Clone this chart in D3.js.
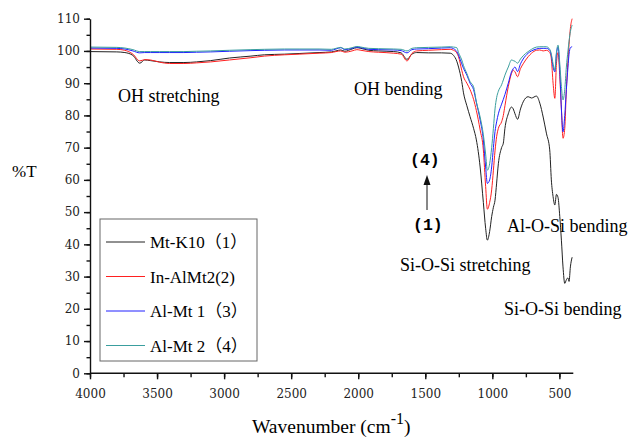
<!DOCTYPE html>
<html>
<head>
<meta charset="utf-8">
<script src="https://cdn.jsdelivr.net/npm/d3@7"></script>
<style>
  body { margin: 0; background: #fff; }
  text { font-family: "Liberation Serif", "Noto Sans CJK SC", serif; }
</style>
</head>
<body>
<div id="chart"></div>
<script>
// wavenumber grid (cm-1), shared by all four spectra
const wavenumbers = [4000, 3800, 3740, 3680, 3629, 3592, 3550, 3480, 3406, 3300, 3205, 3100, 2960, 2800, 2700, 2550, 2441, 2292, 2200, 2166, 2130, 2100, 2046, 2010, 1980, 1921, 1850, 1735, 1680, 1636, 1600, 1564, 1475, 1380, 1314, 1289, 1265, 1252, 1228, 1215, 1190, 1166, 1140, 1119, 1091, 1067, 1050, 1037, 1020, 1005, 992, 980, 968, 955, 931, 918, 906, 881, 857, 844, 831, 812, 790, 770, 733, 708, 671, 646, 621, 597, 572, 560, 547, 534, 522, 510, 497, 485, 473, 460, 448, 436, 428, 418, 405]

// %T for each sample
const mtK10 = [99.8, 99.7, 99.5, 98.6, 96.2, 97.2, 97.0, 96.6, 96.4, 96.4, 96.6, 97.0, 97.8, 98.4, 98.8, 99.0, 99.2, 99.5, 99.7, 100.0, 100.3, 99.9, 100.6, 101.0, 100.8, 100.2, 100.0, 99.8, 99.4, 97.4, 99.0, 99.5, 99.4, 99.4, 99.3, 98.6, 96.8, 95.0, 90.5, 87.0, 83.0, 79.6, 76.0, 72.4, 64.0, 53.0, 45.0, 41.3, 44.0, 48.6, 51.5, 53.7, 59.0, 65.0, 70.0, 71.4, 76.0, 80.5, 82.6, 82.0, 80.5, 78.8, 82.0, 84.2, 85.8, 85.4, 86.0, 83.8, 79.5, 74.5, 69.3, 60.0, 54.8, 52.2, 55.5, 54.5, 48.6, 41.3, 33.0, 27.9, 29.0, 29.6, 28.5, 33.0, 36.0]
const inAlMt2 = [100.6, 100.5, 100.2, 99.0, 96.9, 97.3, 97.2, 96.5, 96.1, 96.1, 96.3, 96.6, 97.2, 97.9, 98.4, 98.8, 99.0, 99.3, 99.5, 99.8, 100.0, 99.6, 100.0, 100.4, 100.2, 99.8, 99.6, 99.3, 99.0, 96.9, 99.2, 100.0, 100.2, 100.4, 100.5, 100.2, 99.4, 98.2, 94.0, 92.0, 90.0, 88.0, 85.0, 81.5, 75.5, 69.3, 58.0, 50.9, 53.0, 56.9, 63.0, 69.0, 73.4, 76.0, 78.0, 80.0, 83.0, 88.9, 93.0, 94.0, 93.5, 92.0, 94.5, 96.0, 98.2, 99.3, 100.2, 100.3, 100.0, 100.2, 99.5, 97.5, 90.0, 85.3, 96.0, 99.5, 92.0, 82.0, 72.9, 76.0, 88.0, 97.0, 102.0, 107.0, 110.0]
const alMt1 = [100.9, 100.8, 100.6, 100.0, 99.4, 99.5, 99.5, 99.5, 99.5, 99.5, 99.6, 99.7, 99.9, 100.1, 100.2, 100.3, 100.3, 100.3, 100.2, 100.6, 101.0, 100.4, 100.8, 101.2, 101.0, 100.5, 100.4, 100.3, 100.1, 99.4, 100.4, 100.6, 100.7, 100.9, 101.0, 100.7, 99.8, 98.7, 96.0, 94.6, 92.5, 90.0, 88.0, 84.0, 78.6, 72.4, 64.0, 58.9, 60.0, 64.0, 70.0, 75.0, 78.0, 80.5, 83.5, 85.0, 86.5, 90.0, 93.5, 94.5, 95.0, 93.6, 96.0, 97.5, 99.3, 100.0, 100.6, 100.8, 100.8, 100.8, 100.2, 98.5, 95.0, 93.5, 99.0, 101.2, 94.0, 82.0, 74.9, 80.0, 88.0, 95.0, 99.0, 101.0, 101.3]
const alMt2 = [101.2, 101.1, 100.9, 100.4, 99.8, 99.8, 99.8, 99.8, 99.8, 99.8, 99.9, 100.0, 100.2, 100.4, 100.5, 100.6, 100.6, 100.6, 100.5, 100.8, 101.1, 100.6, 101.0, 101.4, 101.2, 100.8, 100.7, 100.6, 100.5, 100.0, 100.8, 101.0, 101.1, 101.2, 101.3, 101.2, 101.0, 99.5, 97.2, 95.5, 93.0, 90.5, 88.9, 84.2, 79.5, 74.0, 68.0, 63.0, 65.0, 70.0, 76.0, 82.0, 85.5, 87.5, 89.5, 91.0, 92.5, 95.0, 97.2, 97.0, 96.8, 96.2, 97.5, 98.5, 99.8, 100.5, 101.2, 101.3, 101.3, 101.3, 100.5, 99.0, 96.0, 94.0, 99.5, 101.8, 96.0, 89.0, 84.8, 88.0, 95.0, 100.0, 103.0, 106.0, 108.0]

const seriesNames = ["Mt-K10（1）", "In-AlMt2(2)", "Al-Mt 1（3）", "Al-Mt 2（4）"]
const seriesColors = ["#222222", "#ff2020", "#2020ff", "#3a9e9e"]
const xTicks = [4000, 3500, 3000, 2500, 2000, 1500, 1000, 500]
const yTicks = [0, 10, 20, 30, 40, 50, 60, 70, 80, 90, 100, 110]

const width = 632
const height = 446

const svg = d3.select("#chart")
    .append("svg")
    .attr("width", width)
    .attr("height", height)

const x = d3.scaleLinear()
    .domain([4000, 400])
    .range([90, 572.8])

const y = d3.scaleLinear()
    .domain([0, 110])
    .range([373.3, 18.7])

const allSeries = [mtK10, inAlMt2, alMt1, alMt2]

const line = d3.line()
    .x(d => x(d[0]))
    .y(d => y(d[1]))
    .curve(d3.curveMonotoneX)

svg.append("g")
    .attr("fill", "none")
    .attr("stroke-width", 1)
    .selectAll("path")
    .data(allSeries)
    .join("path")
    .attr("stroke", (d, i) => seriesColors[i])
    .attr("d", vals => line(wavenumbers.map((w, i) => [w, vals[i]])))

// minor ticks first, majors on top
svg.append("g")
    .attr("transform", `translate(0,${y(0)})`)
    .call(d3.axisBottom(x).tickValues(d3.range(4000, 400, -250)).tickSize(4).tickFormat(""))
    .call(g => g.select(".domain").remove())
const xAxis = svg.append("g")
    .attr("transform", `translate(0,${y(0)})`)
    .call(d3.axisBottom(x).tickValues(xTicks).tickSize(6).tickSizeOuter(0).tickPadding(10).tickFormat(d3.format("d")))
xAxis.select(".domain").attr("d", `M90,0H573.3`)

svg.append("g")
    .attr("transform", `translate(${x(4000)},0)`)
    .call(d3.axisLeft(y).tickValues(d3.range(0, 111, 5)).tickSize(3.5).tickFormat(""))
    .call(g => g.select(".domain").remove())
svg.append("g")
    .attr("transform", `translate(${x(4000)},0)`)
    .call(d3.axisLeft(y).tickValues(yTicks).tickSize(6).tickSizeOuter(0).tickPadding(4).tickFormat(d3.format("d")))

svg.selectAll(".domain, .tick line").attr("stroke", "#111").attr("stroke-width", 1.4)
svg.selectAll(".tick text")
    .attr("fill", "#222")
    .style("font-family", "'DejaVu Serif', serif")
    .style("font-size", "12px")

// axis titles
svg.append("text").attr("x", 12).attr("y", 177).attr("font-size", 17).text("%T")
const xt = svg.append("text").attr("x", 252).attr("y", 433).attr("font-size", 19.5)
xt.append("tspan").text("Wavenumber (cm")
xt.append("tspan").attr("dy", -9).attr("font-size", 16).text("-1")
xt.append("tspan").attr("dy", 9).text(")")

// band annotations
const notes = [
    {t: "OH stretching", x: 118, y: 102},
    {t: "OH bending", x: 354, y: 95},
    {t: "Al-O-Si bending", x: 507, y: 232},
    {t: "Si-O-Si stretching", x: 400, y: 271},
    {t: "Si-O-Si bending", x: 504, y: 315}
]
svg.append("g")
    .selectAll("text")
    .data(notes)
    .join("text")
    .attr("x", d => d.x)
    .attr("y", d => d.y)
    .attr("font-size", 18)
    .text(d => d.t)

svg.append("text").attr("x", 410).attr("y", 165)
    .style("font-family", "'Liberation Mono', monospace").attr("font-weight", "bold").attr("font-size", 16.5).text("(4)")
svg.append("text").attr("x", 413).attr("y", 230)
    .style("font-family", "'Liberation Mono', monospace").attr("font-weight", "bold").attr("font-size", 16.5).text("(1)")
svg.append("line").attr("x1", 427).attr("x2", 427).attr("y1", 210).attr("y2", 182)
    .attr("stroke", "#111").attr("stroke-width", 1)
svg.append("path").attr("d", "M427,175L423.5,185L430.5,185Z").attr("fill", "#111")

// legend
const legend = svg.append("g")
legend.append("rect")
    .attr("x", 100).attr("y", 219).attr("width", 157).attr("height", 142)
    .attr("fill", "#fff").attr("stroke", "#666").attr("stroke-width", 1)
const item = legend.selectAll("g.item")
    .data(seriesNames)
    .join("g")
    .attr("transform", (d, i) => `translate(0,${242 + i * 34.5})`)
item.append("line")
    .attr("x1", 106).attr("x2", 145)
    .attr("stroke", (d, i) => seriesColors[i])
item.append("text")
    .attr("x", 150).attr("y", 6)
    .attr("font-size", 17)
    .text(d => d)
</script>
</body>
</html>
